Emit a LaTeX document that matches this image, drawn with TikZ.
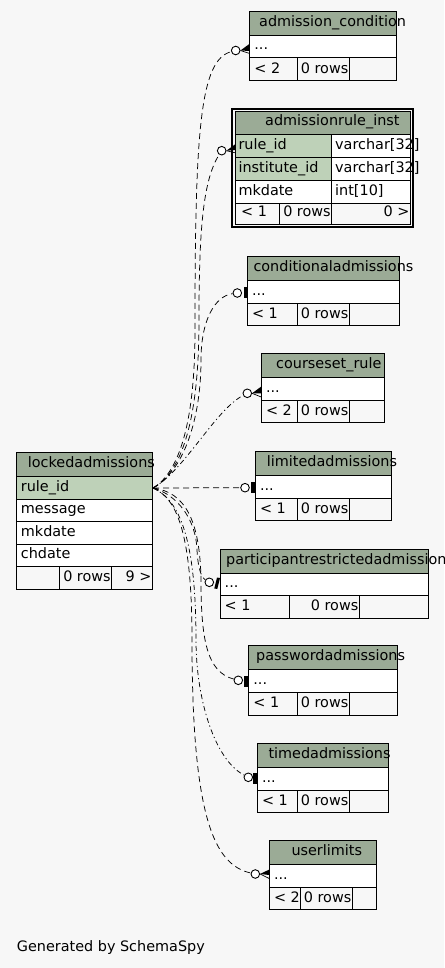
\documentclass[tikz,border=0pt]{standalone}
\usepackage{fontspec}
\setmainfont{DejaVu Sans}
\definecolor{bgc}{HTML}{F7F7F7}
\definecolor{hdrc}{HTML}{9BAB96}
\definecolor{keyc}{HTML}{BED1B8}
\tikzset{
  txt/.style={anchor=base west, inner sep=0pt, font=\fontsize{14.4}{17}\selectfont},
  txtr/.style={anchor=base east, inner sep=0pt, font=\fontsize{14.4}{17}\selectfont},
  cell/.style={draw=black, line width=1pt},
  endcirc/.style={circle, draw=black, line width=0.9pt, fill=white, minimum size=8.6pt, inner sep=0pt},
  rel/.style={draw=black, line width=0.75pt, dash pattern=on 6pt off 4pt},
  reldd/.style={draw=black, line width=0.75pt, dash pattern=on 5pt off 3pt on 1.2pt off 3pt},
  crowline/.style={draw=black, line width=0.7pt},
}
\newcommand\SmallTable[9]{% #1 name, #2 L, #3 T, #4 R, #5 titleX, #6 title, #7 footer left, #8 D1, #9 D2
  \pgfmathsetmacro\ertH{#3+24}%
  \pgfmathsetmacro\ertR{#3+46.7}%
  \pgfmathsetmacro\ertF{#3+69.3}%
  \fill[hdrc] (#2,#3) rectangle (#4,\ertH);
  \fill[white] (#2,\ertH) rectangle (#4,\ertR);
  \node[txt] (#1-title) at (#5,\ertH-9) {#6};
  \node[txt] (#1-row) at (#2+4.5,\ertR-8) {...};
  \node[txt] (#1-min) at (#2+4.5,\ertF-7.5) {#7};
  \node[txtr] (#1-rows) at (#9-0.8,\ertF-7.5) {0 rows};
  \draw[cell] (#2,#3) rectangle (#4,\ertF);
  \draw[cell] (#2,\ertH) -- (#4,\ertH) (#2,\ertR) -- (#4,\ertR) (#8,\ertR) -- (#8,\ertF) (#9,\ertR) -- (#9,\ertF);
}
\begin{document}
\begin{tikzpicture}[x=1pt,y=-1pt]
\fill[bgc] (0,0) rectangle (444,968);
\useasboundingbox (0,0) rectangle (444,968);

% ---------- connectors ----------
\coordinate (O) at (153,488);
\node[endcirc] (e-ac) at (235.7,50.5) {};
\node[endcirc] (e-ar) at (221.7,150.7) {};
\node[endcirc] (e-ca) at (237.3,293) {};
\node[endcirc] (e-cr) at (247.3,393.3) {};
\node[endcirc] (e-la) at (245,487.7) {};
\node[endcirc] (e-pr) at (209.3,582.3) {};
\node[endcirc] (e-pa) at (238.3,680.3) {};
\node[endcirc] (e-ta) at (248.3,777.3) {};
\node[endcirc] (e-ul) at (255.3,874) {};

\draw[rel] (O) .. controls (180,472) and (195,420) .. (195,330) .. controls (195,130) and (200,60) .. (e-ac);
\draw[rel] (O) .. controls (182,472) and (199,420) .. (199,320) .. controls (199,230) and (203,180) .. (e-ar);
\draw[rel] (O) .. controls (183,472) and (201,420) .. (201,360) .. controls (201,320) and (215,296) .. (e-ca);
\draw[reldd] (O) .. controls (185,470) and (215,410) .. (e-cr);
\draw[rel] (O) -- (e-la);
\draw[rel] (O) .. controls (178,495) and (196,520) .. (197,550) .. controls (198,570) and (202,578) .. (e-pr);
\draw[rel] (O) .. controls (185,492) and (200,520) .. (201,580) .. controls (201,640) and (207,672) .. (e-pa);
\draw[reldd] (O) .. controls (180,500) and (196,540) .. (196,640) .. controls (196,700) and (215,760) .. (e-ta);
\draw[rel] (O) .. controls (176,498) and (192,530) .. (192,640) .. controls (192,820) and (215,865) .. (e-ul);

% end marks
\fill (e-ac.east) -- (249.7,43.7) -- (249.7,51) -- cycle;
\draw[crowline] (e-ac.east) -- (249.7,53.5);
\fill (e-ar.east) -- (236,143.7) -- (237,150) -- cycle;
\draw[crowline] (e-ar.east) -- (236,153);
\fill (243.7,287.3) rectangle (247.3,298.3);
\fill (e-cr.east) -- (261.3,386.5) -- (261.3,393.5) -- cycle;
\draw[crowline] (e-cr.east) -- (261.3,397);
\fill (251,481.5) rectangle (255.3,492.5);
\fill (214.3,588.5) -- (217.3,589) -- (220,578) -- (217,577.5) -- cycle;
\fill (244.3,676) rectangle (248.7,687.3);
\fill (253.3,773.3) rectangle (257.3,784.3);
\fill (e-ul.east) -- (269.3,869.5) -- (269.3,875) -- cycle;
\draw[crowline] (e-ul.east) -- (269.3,878.5);

% ---------- simple tables ----------
\SmallTable{ac}{249.7}{11.3}{396.7}{259}{admission\_condition}{< 2}{297.3}{349.3}
\SmallTable{ca}{247.3}{256.3}{399.3}{253.3}{conditionaladmissions}{< 1}{297.3}{349.3}
\SmallTable{cr}{261.3}{353.3}{384.7}{276}{courseset\_rule}{< 2}{297.3}{349.3}
\SmallTable{la}{255.3}{451.3}{391.3}{266.7}{limitedadmissions}{< 1}{297.3}{349.3}
\SmallTable{pr}{220}{549}{428.3}{226}{participantrestrictedadmissions}{< 1}{289.3}{359.3}
\SmallTable{pa}{248.7}{645.7}{397.3}{256}{passwordadmissions}{< 1}{297.3}{349.3}
\SmallTable{ta}{257.3}{743.3}{388.3}{268.3}{timedadmissions}{< 1}{297.3}{349.3}
\SmallTable{ul}{269.3}{840.3}{376.7}{291.3}{userlimits}{< 2}{300.7}{352.3}

% ---------- admissionrule_inst ----------
\draw[line width=2pt] (232,109.3) rectangle (413.3,227.2);
\fill[hdrc] (235.3,111.7) rectangle (410.7,135);
\fill[keyc] (235.3,135) rectangle (331.7,180.5);
\fill[white] (331.7,135) rectangle (410.7,180.5);
\fill[white] (235.3,180.5) rectangle (410.7,203.3);
\node[txt] (ar-title) at (265,126) {admissionrule\_inst};
\node[txt] (ar-c1) at (238.3,149.3) {rule\_id};
\node[txt] (ar-t1) at (335,149.3) {varchar[32]};
\node[txt] (ar-c2) at (238.3,172.5) {institute\_id};
\node[txt] (ar-t2) at (335,172.5) {varchar[32]};
\node[txt] (ar-c3) at (238.3,195.3) {mkdate};
\node[txt] (ar-t3) at (335,195.3) {int[10]};
\node[txt] (ar-min) at (241,216.8) {< 1};
\node[txtr] (ar-rows) at (330.9,216.8) {0 rows};
\node[txtr] (ar-max) at (409.7,216.8) {0 >};
\draw[cell] (235.3,111.7) rectangle (410.7,224.2);
\draw[cell] (235.3,135) -- (410.7,135) (235.3,157.3) -- (410.7,157.3)
  (235.3,180.5) -- (410.7,180.5) (235.3,203.3) -- (410.7,203.3)
  (331.7,135) -- (331.7,224.2) (279.3,203.3) -- (279.3,224.2);

% ---------- lockedadmissions ----------
\fill[hdrc] (16.3,452.3) rectangle (152.7,476.3);
\fill[keyc] (16.3,476.3) rectangle (152.7,499);
\fill[white] (16.3,499) rectangle (152.7,566.8);
\node[txt] (lk-title) at (27.7,467.3) {lockedadmissions};
\node[txt] (lk-c1) at (20.7,491) {rule\_id};
\node[txt] (lk-c2) at (20.7,513.7) {message};
\node[txt] (lk-c3) at (20.7,536.3) {mkdate};
\node[txt] (lk-c4) at (20.7,558.8) {chdate};
\node[txtr] (lk-rows) at (110.9,581.5) {0 rows};
\node[txtr] (lk-max) at (151.7,581.5) {9 >};
\draw[cell] (16.3,452.3) rectangle (152.7,589);
\draw[cell] (16.3,476.3) -- (152.7,476.3) (16.3,499) -- (152.7,499)
  (16.3,521.7) -- (152.7,521.7) (16.3,544.3) -- (152.7,544.3)
  (16.3,566.8) -- (152.7,566.8) (59.3,566.8) -- (59.3,589) (111.7,566.8) -- (111.7,589);

\node[txt] (gen) at (16.7,951) {Generated by SchemaSpy};
\end{tikzpicture}
\end{document}
